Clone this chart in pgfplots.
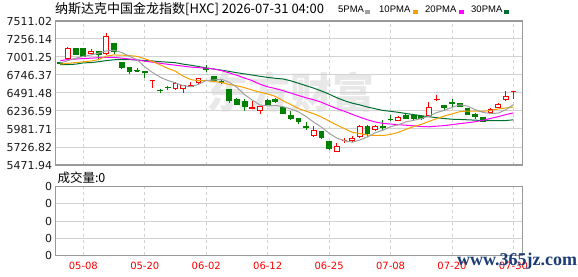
\documentclass[border=0pt]{standalone}
\usepackage{pgfplots}
\pgfplotsset{compat=1.18}
\usepackage{pgfplotstable}
\usepgfplotslibrary{statistics}
\usepackage{fontspec}
\setmainfont{DejaVu Sans}
\newfontfamily\cjk{Noto Sans CJK SC}
\newfontfamily\lib{Liberation Sans}
\newfontfamily\libserif{Liberation Serif}
\definecolor{ma5}{HTML}{A0A0A0}
\definecolor{ma10}{HTML}{F5A000}
\definecolor{ma20}{HTML}{FF00FF}
\definecolor{ma30}{HTML}{006E32}
\definecolor{upred}{HTML}{FF0000}
\definecolor{dngreen}{HTML}{008000}
\definecolor{framec}{HTML}{999999}
\definecolor{gridc}{HTML}{D2D2D2}
\definecolor{wm}{HTML}{E8E8E8}
\definecolor{site}{HTML}{1C3C78}

\pgfplotstableread{
i o h l c
0 6920 6925 6895 6905
1 6974 7148 6965 7125
2 7115 7134 7026 7040
3 7115 7125 7002 7012
4 7045 7115 7035 7073
5 7073 7078 6960 7031
6 7049 7341 7040 7285
7 7191 7200 7040 7078
8 6922 6925 6828 6856
9 6852 6855 6758 6800
10 6808 6852 6800 6803
11 6790 6800 6701 6780
12 6663 6676 6564 6673
13 6530 6555 6489 6524
14 6572 6597 6536 6566
15 6550 6649 6548 6621
16 6550 6597 6494 6593
17 6589 6650 6580 6598
18 6635 6710 6626 6696
19 6838 6889 6795 6828
20 6720 6725 6660 6663
21 6656 6692 6621 6644
22 6541 6545 6353 6386
23 6400 6423 6324 6334
24 6376 6400 6235 6306
25 6279 6376 6277 6284
26 6249 6300 6197 6296
27 6390 6409 6315 6329
28 6395 6418 6357 6367
29 6287 6296 6188 6207
30 6178 6240 6108 6131
31 6126 6130 6051 6084
32 6023 6084 5971 6004
33 5886 6018 5884 5962
34 5943 5948 5853 5858
35 5802 5805 5695 5703
36 5670 5787 5660 5736
37 5814 5849 5787 5820
38 5816 5882 5797 5853
39 5872 6037 5863 6018
40 6018 6032 5872 5924
41 5971 6042 5962 6023
42 6018 6103 5971 5999
43 6122 6183 6108 6113
44 6103 6164 6094 6146
45 6178 6211 6117 6136
46 6169 6197 6108 6127
47 6160 6174 6117 6127
48 6178 6357 6174 6282
49 6395 6466 6390 6400
50 6310 6310 6249 6292
51 6353 6400 6296 6339
52 6339 6343 6292 6306
53 6268 6277 6178 6193
54 6188 6211 6127 6155
55 6146 6150 6090 6094
56 6211 6277 6202 6263
57 6292 6343 6277 6324
58 6395 6517 6390 6437
59 6508 6517 6409 6513
}\ohlc

\pgfplotstableread{
i ma5 ma10 ma20 ma30
0 6915 6900 6951 6894
1 6950 6912 6965 6894
2 6985 6922 6972 6900
3 7010 6932 6979 6918
4 7031 6945 6985 6922
5 7056 6965 6992 6935
6 7088 7015 6998 6950
7 7096 7030 6995 6962
8 7065 7028 6985 6965
9 7010 7021 6972 6965
10 6964 7010 6958 6958
11 6863 6976 6942 6951
12 6782 6939 6928 6945
13 6716 6890 6912 6935
14 6669 6840 6898 6928
15 6633 6799 6885 6920
16 6595 6729 6872 6900
17 6580 6681 6858 6885
18 6615 6665 6850 6866
19 6667 6668 6844 6847
20 6676 6654 6832 6830
21 6686 6641 6808 6815
22 6643 6612 6776 6797
23 6571 6593 6742 6778
24 6467 6567 6703 6762
25 6391 6533 6666 6745
26 6321 6504 6616 6728
27 6310 6477 6579 6712
28 6316 6444 6555 6700
29 6297 6382 6525 6690
30 6266 6328 6491 6664
31 6224 6272 6457 6630
32 6159 6234 6423 6595
33 6078 6197 6395 6560
34 6008 6152 6360 6520
35 5922 6094 6314 6475
36 5853 6038 6271 6424
37 5816 5987 6232 6382
38 5794 5936 6190 6348
39 5826 5917 6149 6322
40 5870 5896 6112 6293
41 5928 5890 6081 6268
42 5963 5890 6062 6245
43 6015 5905 6051 6232
44 6041 5934 6043 6218
45 6083 5977 6035 6201
46 6104 6016 6027 6186
47 6130 6047 6017 6170
48 6164 6090 6013 6156
49 6214 6128 6022 6142
50 6246 6165 6030 6130
51 6288 6196 6043 6120
52 6324 6227 6058 6117
53 6306 6235 6070 6112
54 6257 6236 6085 6107
55 6217 6232 6104 6101
56 6202 6245 6131 6100
57 6206 6265 6156 6100
58 6255 6280 6185 6102
59 6326 6292 6210 6112
}\ma

\pgfplotsset{
  candlebase/.style={solid, line width=1pt, boxplot/draw direction=y,
    boxplot/box extend=0.62, boxplot/whisker extend=0},
  upc/.style={candlebase, draw=upred, fill=white},
  dnc/.style={candlebase, draw=dngreen, fill=dngreen},
  panel/.style={scale only axis, anchor=south west, width=467pt,
    xmin=-0.65, xmax=60.15,
    axis line style={framec, line width=1.2pt},
    major tick length=0pt,
    xtick={3,11,19,27,35,43,51,59},
    xmajorgrids, ymajorgrids,
    x grid style={gridc, line width=1pt, dash pattern=on 3pt off 3pt},
    y grid style={gridc, line width=1pt},
    yticklabel style={font=\fontsize{11}{11}\selectfont, text=black!90, inner sep=0pt, xshift=-3pt},
  },
}

\begin{document}
\begin{tikzpicture}
\useasboundingbox (0pt,0pt) rectangle (578pt,276pt);
\node[text=wm, font=\cjk\bfseries\fontsize{42}{42}\selectfont] at (290pt,183.5pt) {东方财富};

\begin{axis}[panel, at={(55.3pt,111pt)}, height=144pt,
  ymin=5471.94, ymax=7511.02,
  ytick={5471.94,5726.82,5981.71,6236.59,6491.48,6746.37,7001.25,7256.14,7511.02},
  yticklabels={5471.94,5726.82,5981.71,6236.59,6491.48,6746.37,7001.25,7256.14,7511.02},
  xticklabels={}]
\pgfplotsforeachungrouped \k in {0,...,59}{%
  \pgfplotstablegetelem{\k}{i}\of\ohlc \let\ci\pgfplotsretval
  \pgfplotstablegetelem{\k}{o}\of\ohlc \let\co\pgfplotsretval
  \pgfplotstablegetelem{\k}{h}\of\ohlc \let\ch\pgfplotsretval
  \pgfplotstablegetelem{\k}{l}\of\ohlc \let\cl\pgfplotsretval
  \pgfplotstablegetelem{\k}{c}\of\ohlc \let\cc\pgfplotsretval
  \pgfmathtruncatemacro\isup{\cc>=\co}%
  \ifnum\isup=1
    \edef\tmp{\noexpand\addplot[upc, boxplot prepared={draw position=\ci, lower whisker=\cl, lower quartile=\co, median=\cc, upper quartile=\cc, upper whisker=\ch}] coordinates {};}%
  \else
    \edef\tmp{\noexpand\addplot[dnc, boxplot prepared={draw position=\ci, lower whisker=\cl, lower quartile=\cc, median=\cc, upper quartile=\co, upper whisker=\ch}] coordinates {};}%
  \fi
  \tmp
}
\addplot[ma30, line width=1pt, no markers] table[x=i, y=ma30] {\ma};
\addplot[ma20, line width=1pt, no markers] table[x=i, y=ma20] {\ma};
\addplot[ma10, line width=1pt, no markers] table[x=i, y=ma10] {\ma};
\addplot[ma5, line width=1pt, no markers] table[x=i, y=ma5] {\ma};
\end{axis}

\begin{axis}[panel, at={(55.3pt,20.7pt)}, height=68.6pt,
  ymin=0, ymax=4, ytick={0,1,2,3,4}, yticklabels={0,0,0,0,0},
  xticklabels={05-08,05-20,06-02,06-12,06-25,07-08,07-20,07-30},
  xticklabel style={text=red, font=\fontsize{10}{10}\selectfont, anchor=center, inner sep=0pt, yshift=-10.5pt}]
\addplot[draw=none, no markers] coordinates {(0,0) (59,0)};
\end{axis}

\node[anchor=west, inner sep=0pt, font=\cjk\fontsize{13}{13}\selectfont] at (55pt,267pt) {纳斯达克中国金龙指数[HXC] 2026-07-31 04:00};
\node[anchor=west, inner sep=0pt, font=\lib\fontsize{9.5}{9.5}\selectfont] at (338pt,267pt) {5PMA};
\node[anchor=west, inner sep=0pt, font=\lib\fontsize{9.5}{9.5}\selectfont] at (379pt,267pt) {10PMA};
\node[anchor=west, inner sep=0pt, font=\lib\fontsize{9.5}{9.5}\selectfont] at (425pt,267pt) {20PMA};
\node[anchor=west, inner sep=0pt, font=\lib\fontsize{9.5}{9.5}\selectfont] at (471pt,267pt) {30PMA};
\fill[ma5] (365pt,262.4pt) rectangle (370pt,266pt);
\fill[ma10] (413pt,262.4pt) rectangle (418pt,266pt);
\fill[ma20] (458.5pt,262.4pt) rectangle (463.5pt,266pt);
\fill[ma30] (503.5pt,262.4pt) rectangle (508.5pt,266pt);
\node[anchor=west, inner sep=0pt, font=\cjk\fontsize{12.5}{12.5}\selectfont] at (57.3pt,98.7pt) {成交量:0};
\node[anchor=west, inner sep=0pt, text=site, font=\libserif\bfseries\fontsize{18}{18}\selectfont] at (457pt,15pt) {www.365jz.com};
\end{tikzpicture}
\end{document}
